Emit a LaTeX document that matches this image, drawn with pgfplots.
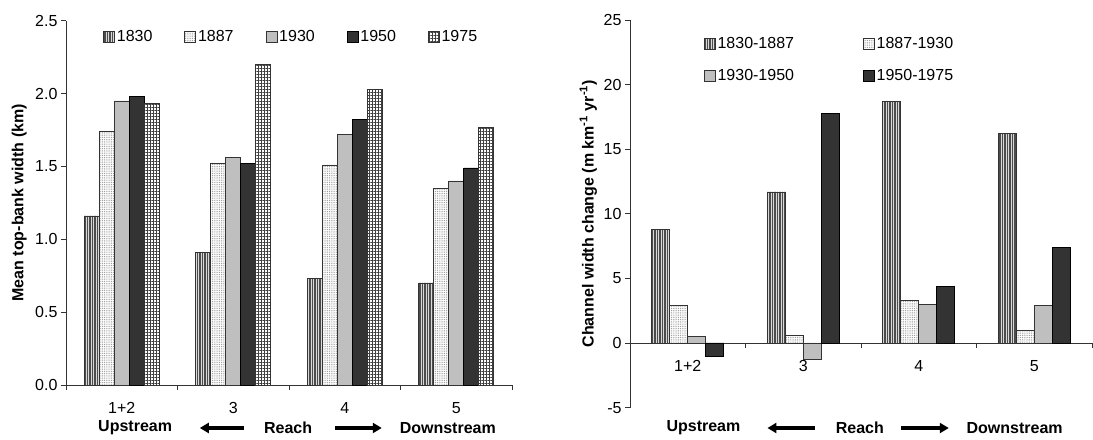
\documentclass[border=0pt]{standalone}
\usepackage{pgfplots}
\pgfplotsset{compat=1.18}
\usepackage{fontspec}
\setmainfont{Liberation Sans}
\usetikzlibrary{patterns.meta,arrows.meta}

\pgfplotstableread{
x a b c d e
0 1.16 1.74 1.95 1.98 1.93
1 0.91 1.52 1.56 1.52 2.20
2 0.73 1.51 1.72 1.82 2.03
3 0.70 1.35 1.40 1.49 1.77
}\widthdata

\pgfplotstableread{
x a b c d
0 8.8 2.9 0.5 -1.0
1 11.7 0.6 -1.3 17.8
2 18.7 3.3 3.0 4.4
3 16.2 1.0 2.9 7.4
}\changedata

\newcommand{\fs}{\fontsize{16bp}{19bp}\selectfont}

\pgfplotsset{
  s1830/.style={draw=black!80, line width=0.6bp, fill=black!15, postaction={pattern={Lines[angle=90,distance=2.5bp,line width=1.1bp]}, pattern color=black!70}},
  s1887/.style={draw=black!80, line width=0.6bp, fill=white, postaction={pattern={Dots[distance=1.8bp,radius=0.5bp]}, pattern color=black!45}},
  s1930/.style={draw=black!80, line width=0.6bp, fill=black!25},
  s1950/.style={draw=black, line width=0.6bp, fill=black!80},
  s1975/.style={draw=black!80, line width=0.6bp, fill=white, postaction={pattern={Hatch[angle=0,distance=3bp,line width=0.6bp]}, pattern color=black!75}},
  common/.style={
    scale only axis,
    ybar=0pt,
    xmin=-0.5, xmax=3.5,
    xtick={-0.5,0.5,1.5,2.5,3.5},
    xticklabels={},
    extra x ticks={0,1,2,3},
    extra x tick labels={1+2,3,4,5},
    extra x tick style={major tick length=0pt, tick label style={yshift=-14bp}},
    tick align=outside,
    major tick length=5bp,
    tick style={black!80, line width=0.8bp},
    axis line style={black!80, line width=0.8bp},
    tick label style={font=\fs},
    ylabel style={font=\fs\bfseries},
    legend style={draw=none, font=\fs, fill=none},
    legend image code/.code={\draw[##1] (0bp,-5.5bp) rectangle (11bp,5.5bp);},
    clip=false,
  },
}

\begin{document}
\begin{tikzpicture}
\useasboundingbox (0,0) rectangle (1093bp,440bp);

% Left chart
\begin{axis}[
  common,
  at={(66bp,55bp)}, anchor=south west,
  width=446bp, height=364.3bp,
  bar width=15bp,
  axis y line*=left, axis x line*=bottom,
  ymin=0, ymax=2.5,
  ytick={0,0.5,1,1.5,2,2.5},
  yticklabels={0.0,0.5,1.0,1.5,2.0,2.5},
  ylabel={Mean top-bank width (km)},
  ylabel style={at={(axis description cs:-0.105,0.5)}, anchor=center},
  legend columns=5,
  legend style={at={(axis description cs:0.505,0.955)}, anchor=center,
    /tikz/every even column/.append style={column sep=30bp}},
]
\addplot[s1830] table[x=x,y=a] {\widthdata};
\addplot[s1887] table[x=x,y=b] {\widthdata};
\addplot[s1930] table[x=x,y=c] {\widthdata};
\addplot[s1950] table[x=x,y=d] {\widthdata};
\addplot[s1975] table[x=x,y=e] {\widthdata};
\legend{1830,1887,1930,1950,1975}
\node[font=\fs\bfseries] at (axis description cs:0.155,-0.118) {Upstream};
\node[font=\fs\bfseries] at (axis description cs:0.498,-0.118) {Reach};
\node[font=\fs\bfseries] at (axis description cs:0.856,-0.118) {Downstream};
\draw[line width=3.2bp, -{Triangle[length=9bp,width=10bp]}] (axis description cs:0.40,-0.118) -- (axis description cs:0.30,-0.118);
\draw[line width=3.2bp, -{Triangle[length=9bp,width=10bp]}] (axis description cs:0.603,-0.118) -- (axis description cs:0.708,-0.118);
\end{axis}

% Right chart
\begin{axis}[
  common,
  at={(630bp,32.4bp)}, anchor=south west,
  width=462bp, height=387.6bp,
  bar width=18bp,
  axis y line*=left, axis x line*=middle,
  ymin=-5, ymax=25,
  ytick={-5,0,5,10,15,20,25},
  yticklabels={-5,0,5,10,15,20,25},
  ylabel={Channel width change (m km\textsuperscript{-1} yr\textsuperscript{-1})},
  ylabel style={at={(axis description cs:-0.09,0.5)}, anchor=center},
  legend columns=2,
  legend style={at={(axis description cs:0.432,0.897)}, anchor=center,
    /tikz/every even column/.append style={column sep=67bp}, row sep=15bp},
]
\addplot[s1830] table[x=x,y=a] {\changedata};
\addplot[s1887] table[x=x,y=b] {\changedata};
\addplot[s1930] table[x=x,y=c] {\changedata};
\addplot[s1950] table[x=x,y=d] {\changedata};
\legend{1830-1887,1887-1930,1930-1950,1950-1975}
\node[font=\fs\bfseries] at (axis cs:0.136,-6.58) {Upstream};
\node[font=\fs\bfseries] at (axis cs:1.49,-6.58) {Reach};
\node[font=\fs\bfseries] at (axis cs:2.83,-6.58) {Downstream};
\draw[line width=3.2bp, -{Triangle[length=9bp,width=10bp]}] (axis cs:1.10,-6.58) -- (axis cs:0.69,-6.58);
\draw[line width=3.2bp, -{Triangle[length=9bp,width=10bp]}] (axis cs:1.85,-6.58) -- (axis cs:2.26,-6.58);
\end{axis}
\end{tikzpicture}
\end{document}
